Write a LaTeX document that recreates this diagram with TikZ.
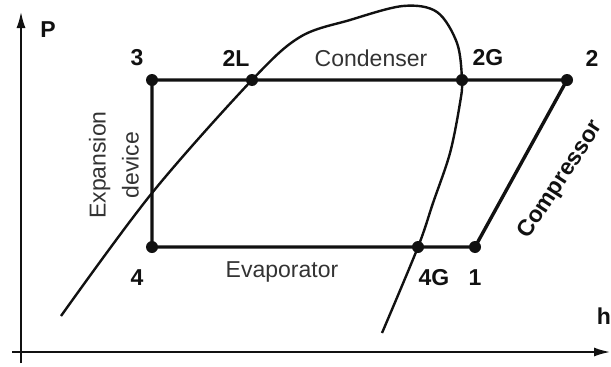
\documentclass[tikz,border=0pt]{standalone}
\usepackage{fontspec}
\setmainfont{Liberation Sans}
\usepackage{xcolor}
\usepackage{tikz}
\usetikzlibrary{arrows.meta}
\definecolor{phink}{HTML}{111111}
\definecolor{phtext}{HTML}{333333}

\begin{document}
\begin{tikzpicture}[x=1pt,y=-1pt,font=\fontsize{23}{28}\selectfont,
  dot/.style={circle,fill=phink,inner sep=0pt,minimum size=12pt},
  ptlab/.style={font=\fontsize{23}{28}\selectfont\bfseries,text=phink},
  proc/.style={text=phtext},
  cyc/.style={draw=phink,line width=3.4pt,line join=round},
  dome/.style={draw=phink,line width=2.4pt},
  axis/.style={draw=phink,line width=2.6pt,-{Latex[length=17pt,width=9pt]}}]
  \useasboundingbox (0,0) rectangle (611,367);
  \coordinate (ybot) at (21,363);
  \coordinate (ytop) at (21,11);
  \coordinate (xleft) at (12,352);
  \coordinate (xright) at (611,352);
  \draw[axis] (ybot) -- (ytop);
  \draw[axis] (xleft) -- (xright);
  \node[ptlab] (lP) at (48,30) {P};
  \node[ptlab] (lh) at (604,316) {h};
  \foreach \n/\x/\y in {3/152/80,2L/252/80,2G/462/80,2/567/80,4/152/247,4G/418/247,1/475/247}
    \node[dot] (p\n) at (\x,\y) {};
  \foreach \n/\x/\y in {3/137/58,2L/236/58,2G/488/58,2/592/58,4/137/278,4G/434/278,1/475/278}
    \node[ptlab] (l\n) at (\x,\y) {\n};
  \draw[dome] plot[smooth,tension=0.55] coordinates {(61,316) (152,193) (p2L) (300,37) (350,20) (403,6) (437,12) (457,43) (p2G) (460,103) (450,153) (433,203) (p4G) (382,333)};
  \draw[cyc] (p3.center) -- (p2L.center) -- (p2G.center) -- (p2.center) -- (p1.center) -- (p4G.center) -- (p4.center) -- cycle;
  \node[proc] (cond) at (371,58) {Condenser};
  \node[proc] (evap) at (282,272) {Evaporator};
  \node[proc,rotate=90,align=center,font=\fontsize{23}{33}\selectfont] (expd) at (114,165) {Expansion\\device};
  \node[ptlab,rotate=57] (comp) at (561,180) {Compressor};
\end{tikzpicture}
\end{document}
